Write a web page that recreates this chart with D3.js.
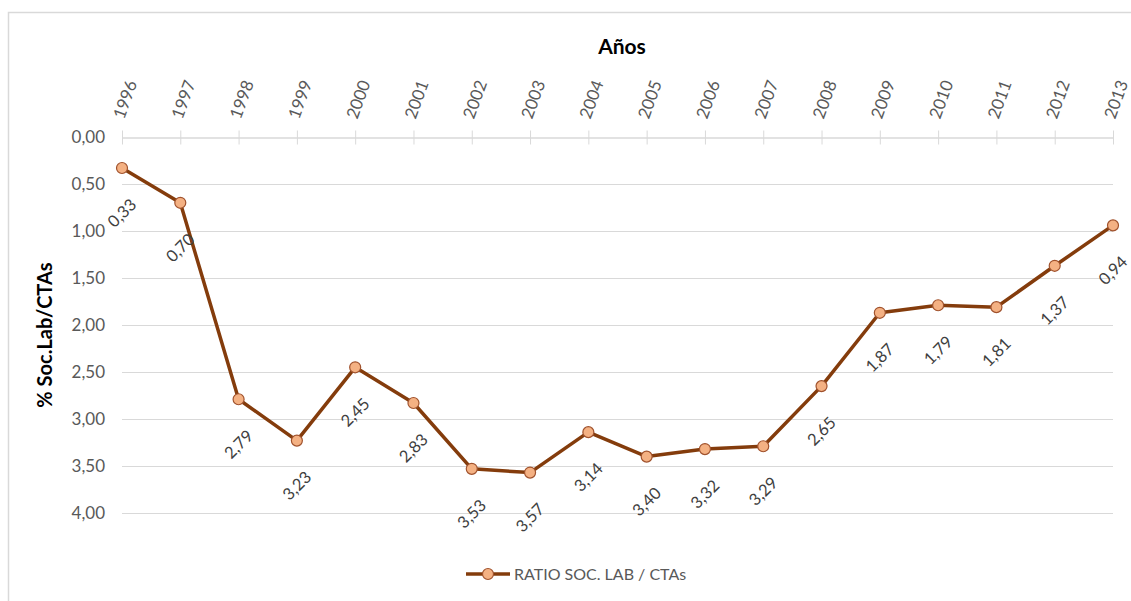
<!DOCTYPE html>
<html>
<head>
<meta charset="utf-8">
<script src="https://cdn.jsdelivr.net/npm/d3@7"></script>
<style>
  body { margin: 0; background: #fff; }
  text { font-family: Lato, "Open Sans", sans-serif; }
</style>
</head>
<body>
<script>
const years = ['1996','1997','1998','1999','2000','2001','2002','2003','2004','2005','2006','2007','2008','2009','2010','2011','2012','2013']
const ratio = [0.33,0.70,2.79,3.23,2.45,2.83,3.53,3.57,3.14,3.40,3.32,3.29,2.65,1.87,1.79,1.81,1.37,0.94]
const yTicks = [0,0.5,1,1.5,2,2.5,3,3.5,4]
const seriesName = 'RATIO SOC. LAB / CTAs'

const width = 1131
const height = 601
const margin = {left: 122, right: 18, top: 137, bottom: 88}

const lineColor = '#843c0c'
const markerFill = '#f4b183'
const fmt = d => d.toFixed(2).replace('.', ',')

const svg = d3.select('body').append('svg').attr('width', width).attr('height', height)

// chart area border
svg.append('rect')
  .attr('x', 8.5).attr('y', 12.5)
  .attr('width', 1140).attr('height', 620)
  .attr('fill', 'none').attr('stroke', '#d9d9d9').attr('stroke-width', 1.5)

const x = d3.scalePoint().domain(years).range([margin.left, width - margin.right])
const y = d3.scaleLinear().domain([0, 4]).range([margin.top, height - margin.bottom])

// gridlines
svg.append('g')
  .selectAll('line')
  .data(yTicks.slice(1))
  .enter().append('line')
    .attr('x1', margin.left).attr('x2', width - margin.right)
    .attr('y1', d => Math.round(y(d)) + 0.5).attr('y2', d => Math.round(y(d)) + 0.5)
    .attr('stroke', '#d9d9d9').attr('stroke-width', 1)

// y labels
svg.append('g')
  .selectAll('text')
  .data(yTicks)
  .enter().append('text')
    .attr('x', 105)
    .attr('y', d => y(d))
    .attr('dy', '0.35em')
    .attr('text-anchor', 'end')
    .attr('font-size', 17)
    .attr('fill', '#595959')
    .text(fmt)

// category axis on top (reversed value axis)
const xAxis = svg.append('g')
  .attr('transform', 'translate(0,' + (Math.round(y(0)) + 0.5) + ')')
  .call(d3.axisTop(x).tickSizeInner(7).tickSizeOuter(0).tickFormat(''))
xAxis.select('.domain').attr('stroke', '#d9d9d9').attr('stroke-width', 1.5)
xAxis.selectAll('.tick line').attr('stroke', '#d9d9d9').attr('y2', 7).attr('y1', -7)

svg.append('g')
  .selectAll('text')
  .data(years)
  .enter().append('text')
    .attr('transform', d => 'translate(' + (x(d) + 2) + ',120) rotate(-70)')
    .attr('text-anchor', 'start')
    .attr('font-size', 17)
    .attr('fill', '#595959')
    .text(d => d)

// titles
svg.append('text')
  .attr('x', 622).attr('y', 54)
  .attr('text-anchor', 'middle')
  .attr('font-size', 21).attr('font-weight', 'bold').attr('fill', '#000')
  .text('Años')

svg.append('text')
  .attr('transform', 'translate(52,335) rotate(-90)')
  .attr('text-anchor', 'middle')
  .attr('font-size', 20).attr('font-weight', 'bold').attr('fill', '#000')
  .text('% Soc.Lab/CTAs')

// line
const line = d3.line()
  .x((d, i) => x(years[i]))
  .y(d => y(d))

svg.append('path')
  .datum(ratio)
  .attr('d', line)
  .attr('fill', 'none')
  .attr('stroke', lineColor)
  .attr('stroke-width', 3.5)
  .attr('stroke-linejoin', 'round')

svg.append('g')
  .selectAll('circle')
  .data(ratio)
  .enter().append('circle')
    .attr('cx', (d, i) => x(years[i]))
    .attr('cy', d => y(d))
    .attr('r', 5.5)
    .attr('fill', markerFill)
    .attr('stroke', '#a0522d')
    .attr('stroke-width', 1.2)

// data labels
svg.append('g')
  .selectAll('text')
  .data(ratio)
  .enter().append('text')
    .attr('transform', (d, i) => 'translate(' + x(years[i]) + ',' + (y(d) + 45) + ') rotate(-45)')
    .attr('text-anchor', 'middle')
    .attr('dy', '0.35em')
    .attr('font-size', 16.5)
    .attr('fill', '#404040')
    .text(fmt)

// legend
const legend = svg.append('g').attr('transform', 'translate(466,574)')
legend.append('line')
  .attr('x1', 0).attr('x2', 44).attr('y1', 0).attr('y2', 0)
  .attr('stroke', lineColor).attr('stroke-width', 3.5)
legend.append('circle')
  .attr('cx', 22).attr('cy', 0).attr('r', 5.5)
  .attr('fill', markerFill).attr('stroke', '#a0522d').attr('stroke-width', 1.2)
legend.append('text')
  .attr('x', 48).attr('y', 0).attr('dy', '0.35em')
  .attr('font-size', 16).attr('fill', '#595959')
  .text(seriesName)
</script>
</body>
</html>
